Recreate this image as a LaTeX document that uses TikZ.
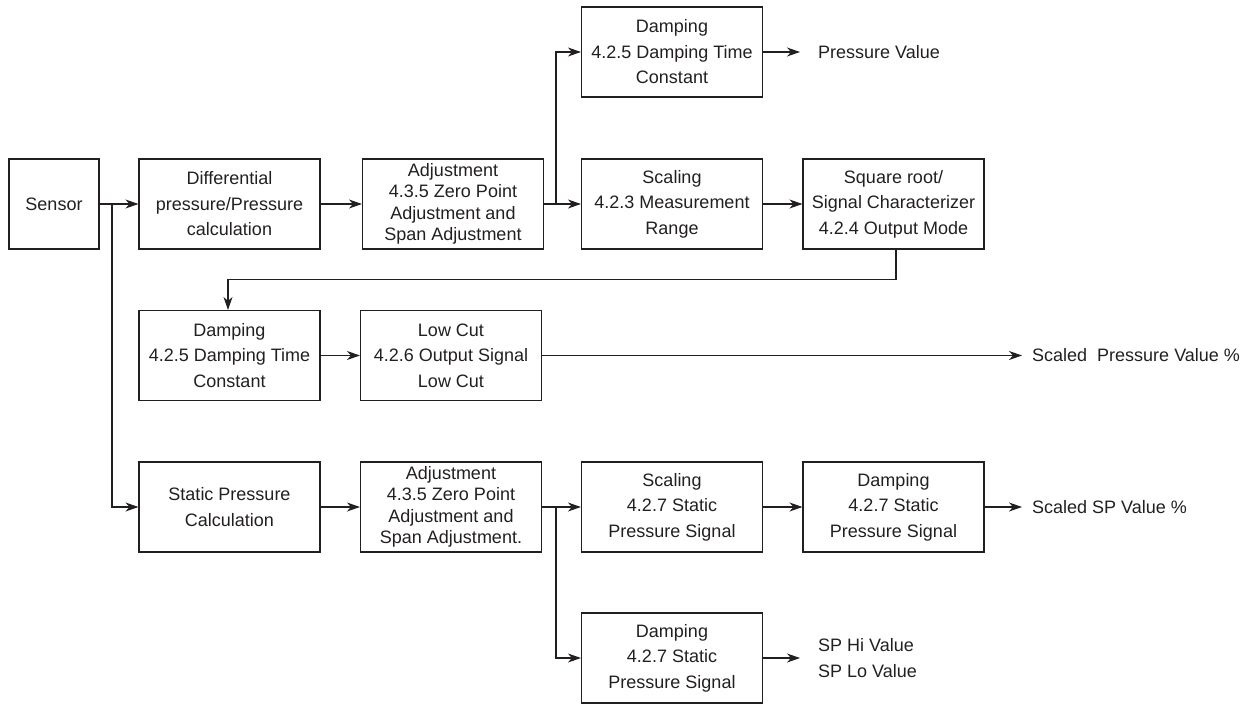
\documentclass[tikz,border=0pt]{standalone}
\usepackage{fontspec}
\setmainfont{Liberation Sans}
\definecolor{inkgray}{RGB}{35, 31, 32}
\usepackage{tikz}
\usetikzlibrary{arrows.meta, positioning, calc}

\begin{document}
\begin{tikzpicture}[x=1pt, y=-1pt,
    block/.style={draw=inkgray, line width=1.1pt, text=inkgray, minimum width=181pt, minimum height=90pt,
      align=center, inner sep=2pt, font=\fontsize{18}{25.5}\selectfont},
    tightblock/.style={block, font=\fontsize{18}{21.5}\selectfont},
    outlabel/.style={anchor=west, text=inkgray, inner sep=0pt, align=left, font=\fontsize{18}{25.5}\selectfont},
    flow/.style={draw=inkgray, line width=1.1pt, -{Stealth[length=13pt, width=9pt, inset=4pt]}}]
  \useasboundingbox (0,0) rectangle (1260,704);

  % Differential pressure path
  \node[block, minimum width=90pt] (sensor) at (54, 204) {Sensor};
  \node[block] (diffcalc) at (229.5, 204) {Differential\\pressure/Pressure\\calculation};
  \node[tightblock] (adjdp) at (453, 204) {Adjustment\\4.3.5 Zero Point\\Adjustment and\\Span Adjustment};
  \node[block] (dampout) at (672, 52) {Damping\\4.2.5 Damping Time\\Constant};
  \node[block] (scaledp) at (672, 204) {Scaling\\4.2.3 Measurement\\Range};
  \node[block] (sqrtchar) at (893.5, 204) {Square root/\\Signal Characterizer\\4.2.4 Output Mode};

  % Second row
  \node[block] (dampdp) at (229.5, 355.5) {Damping\\4.2.5 Damping Time\\Constant};
  \node[block] (lowcut) at (451, 355.5) {Low Cut\\4.2.6 Output Signal\\Low Cut};

  % Static pressure path
  \node[block] (staticcalc) at (229.5, 507) {Static Pressure\\Calculation};
  \node[tightblock] (adjsp) at (451, 507) {Adjustment\\4.3.5 Zero Point\\Adjustment and\\Span Adjustment.};
  \node[block] (scalesp) at (672, 507) {Scaling\\4.2.7 Static\\Pressure Signal};
  \node[block] (dampsp) at (893.5, 507) {Damping\\4.2.7 Static\\Pressure Signal};
  \node[block] (damphilo) at (672, 658) {Damping\\4.2.7 Static\\Pressure Signal};

  % Outputs
  \node[outlabel] (pval) at (818, 52) {Pressure Value};
  \node[outlabel] (scaledpct) at (1032, 355.5) {Scaled~ Pressure Value \%};
  \node[outlabel] (scaledsp) at (1032, 507) {Scaled SP Value \%};
  \node[outlabel] (sphilo) at (818, 658) {SP Hi Value\\SP Lo Value};

  % Branch points
  \coordinate (sensorsplit) at (112, 204);
  \coordinate (dpsplit) at (556, 204);
  \coordinate (spsplit) at (556, 507);

  % Connectors
  \draw[flow] (sensor.east) -- (diffcalc.west);
  \draw[flow] (sensorsplit) |- (staticcalc.west);
  \draw[flow] (diffcalc.east) -- (adjdp.west);
  \draw[flow] (adjdp.east) -- (scaledp.west);
  \draw[flow] (dpsplit) |- (dampout.west);
  \draw[flow] (dampout.east) -- ([xshift=-18pt]pval.west);
  \draw[flow] (scaledp.east) -- (sqrtchar.west);
  \draw[flow] ([xshift=2.5pt]sqrtchar.south) -- ++(0,30) -| ([xshift=-1.5pt]dampdp.north);
  \draw[flow] (dampdp.east) -- (lowcut.west);
  \draw[flow] (lowcut.east) -- ([xshift=-10pt]lowcut.east -| scaledpct.west);
  \draw[flow] (staticcalc.east) -- (adjsp.west);
  \draw[flow] (adjsp.east) -- (scalesp.west);
  \draw[flow] (spsplit) |- (damphilo.west);
  \draw[flow] (scalesp.east) -- (dampsp.west);
  \draw[flow] (dampsp.east) -- ([xshift=-10pt]dampsp.east -| scaledsp.west);
  \draw[flow] (damphilo.east) -- ([xshift=-18pt]damphilo.east -| sphilo.west);
\end{tikzpicture}
\end{document}
